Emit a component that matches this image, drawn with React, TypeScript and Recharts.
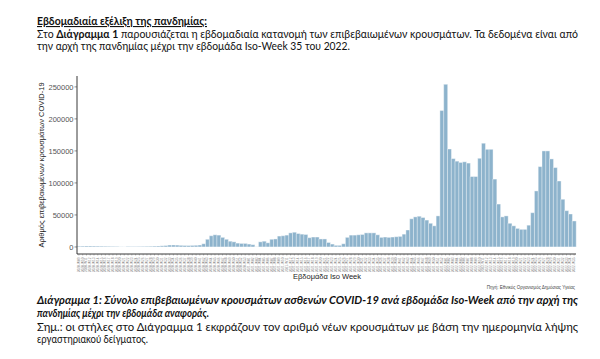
import { BarChart, Bar, XAxis, YAxis } from 'recharts';

// ISO weeks shown: 2020-W09 .. 2022-W35
const years = [2020, 2021, 2022];
const firstWeeks = [9, 1, 1];
const lastWeeks = [53, 52, 35];

const cases2020 = [
  1200, 1300, 1500, 1500, 1400, 1300, 1200, 1100, 1000, 900,
  800, 300, 200, 800, 700, 700, 800, 900, 1000, 1100,
  1300, 1500, 1800, 2200, 3000, 3100, 2900, 2500, 2300, 2200,
  2400, 2600, 3000, 5000, 12000, 17500, 19000, 18500, 15000, 12000,
  9000, 8000, 6000, 5500, 5500,
];
const cases2021 = [
  4500, 3500, 300, 8000, 9000, 6500, 12000, 12500, 17000, 17500,
  18500, 22000, 23000, 21000, 20000, 19500, 14500, 15500, 15500, 12500,
  12500, 7000, 4500, 2500, 2500, 5000, 15000, 18500, 18500, 19000,
  19500, 22000, 22000, 22000, 19000, 15000, 15500, 15000, 15500, 16000,
  16500, 20000, 26500, 44000, 47000, 48000, 46000, 42000, 37000, 33000,
  48500, 213000,
];
const cases2022 = [
  254000, 153000, 138000, 134000, 132000, 133000, 131000, 110000, 110000, 138500,
  162000, 152500, 152500, 106000, 67000, 47000, 48500, 37000, 33000, 29000,
  27500, 27500, 34000, 53500, 87500, 125500, 150000, 150000, 137500, 124000,
  103000, 74500, 56700, 51500, 40600,
];

const yTicks = [0, 50000, 100000, 150000, 200000, 250000];

const weekLabels: string[] = [];
years.forEach((yr, i) => {
  for (let w = firstWeeks[i]; w <= lastWeeks[i]; w++) {
    weekLabels.push(`${yr}-W${String(w).padStart(2, '0')}`);
  }
});
const allCases = [...cases2020, ...cases2021, ...cases2022];
const data = weekLabels.map((week, i) => ({ week, cases: allCases[i] }));

const WeekTick = (props: any) => {
  const { x, y, payload } = props;
  return (
    <text
      x={x}
      y={y}
      dy={1}
      transform={`rotate(-90 ${x} ${y})`}
      textAnchor="end"
      fontSize={3.2}
      fill="#888"
      fontFamily="Liberation Sans, Arial, sans-serif"
    >
      {payload.value}
    </text>
  );
};

const txt = { fontFamily: 'Lato, "Open Sans", sans-serif', fill: '#111' };

export default function App() {
  return (
    <div style={{ position: 'absolute', left: 0, top: 0, width: 600, height: 359, background: '#fff' }}>
      <div style={{ position: 'absolute', left: 0, top: 0 }}>
        <BarChart
          width={600}
          height={290}
          data={data}
          margin={{ top: 76, right: 24, bottom: 0, left: 0 }}
          barCategoryGap={0}
        >
          <XAxis
            dataKey="week"
            interval={0}
            tick={<WeekTick />}
            tickSize={1.5}
            tickLine={{ stroke: '#555', strokeWidth: 0.4 }}
            axisLine={{ stroke: '#222', strokeWidth: 0.9 }}
            height={36}
          />
          <YAxis
            domain={[-11000, 267000]}
            ticks={yTicks}
            width={77}
            tickSize={2.5}
            tickMargin={1}
            tick={{ fontSize: 7.5, fill: '#555', fontFamily: 'Liberation Sans, Arial, sans-serif' }}
            tickLine={{ stroke: '#444', strokeWidth: 0.6 }}
            axisLine={{ stroke: '#222', strokeWidth: 0.9 }}
          />
          <Bar dataKey="cases" fill="#8db3cc" stroke="#ffffff" strokeWidth={0.4} isAnimationActive={false} />
        </BarChart>
      </div>
      <svg width={600} height={359} style={{ position: 'absolute', left: 0, top: 0, pointerEvents: 'none' }}>
        <text x={37} y={25} fontSize={11} fontWeight="bold" textDecoration="underline" textLength={170} lengthAdjust="spacingAndGlyphs" {...txt}>
          Εβδομαδιαία εξέλιξη της πανδημίας:
        </text>
        <text x={37} y={38} fontSize={11} textLength={541} lengthAdjust="spacingAndGlyphs" {...txt}>
          Στο <tspan fontWeight="bold">Διάγραμμα 1</tspan> παρουσιάζεται η εβδομαδιαία κατανομή των επιβεβαιωμένων κρουσμάτων. Τα δεδομένα είναι από
        </text>
        <text x={37} y={50} fontSize={11} textLength={313} lengthAdjust="spacingAndGlyphs" {...txt}>
          την αρχή της πανδημίας μέχρι την εβδομάδα Iso-Week 35 του 2022.
        </text>

        <text
          transform="rotate(-90 44 165)"
          x={44}
          y={165}
          textAnchor="middle"
          fontSize={7.5}
          fill="#222"
          fontFamily="Liberation Sans, Arial, sans-serif"
        >
          Αριθμός επιβεβαιωμένων κρουσμάτων COVID-19
        </text>
        <text x={327} y={279} textAnchor="middle" fontSize={7.5} fill="#222" fontFamily="Liberation Sans, Arial, sans-serif">
          Εβδομάδα Iso Week
        </text>
        <text x={575} y={289} textAnchor="end" fontSize={4.5} fill="#444" fontFamily="Liberation Sans, Arial, sans-serif">
          Πηγή: Εθνικός Οργανισμός Δημόσιας Υγείας
        </text>

        <text x={37} y={304} fontSize={11} fontWeight="bold" fontStyle="italic" textLength={541} lengthAdjust="spacingAndGlyphs" {...txt}>
          Διάγραμμα 1: Σύνολο επιβεβαιωμένων κρουσμάτων ασθενών COVID-19 ανά εβδομάδα Iso-Week από την αρχή της
        </text>
        <text x={37} y={317} fontSize={11} fontWeight="bold" fontStyle="italic" textLength={172} lengthAdjust="spacingAndGlyphs" {...txt}>
          πανδημίας μέχρι την εβδομάδα αναφοράς.
        </text>
        <text x={37} y={331} fontSize={11} textLength={541} lengthAdjust="spacingAndGlyphs" {...txt}>
          Σημ.: οι στήλες στο Διάγραμμα 1 εκφράζουν τον αριθμό νέων κρουσμάτων με βάση την ημερομηνία λήψης
        </text>
        <text x={37} y={343} fontSize={11} textLength={111} lengthAdjust="spacingAndGlyphs" {...txt}>
          εργαστηριακού δείγματος.
        </text>
      </svg>
    </div>
  );
}
